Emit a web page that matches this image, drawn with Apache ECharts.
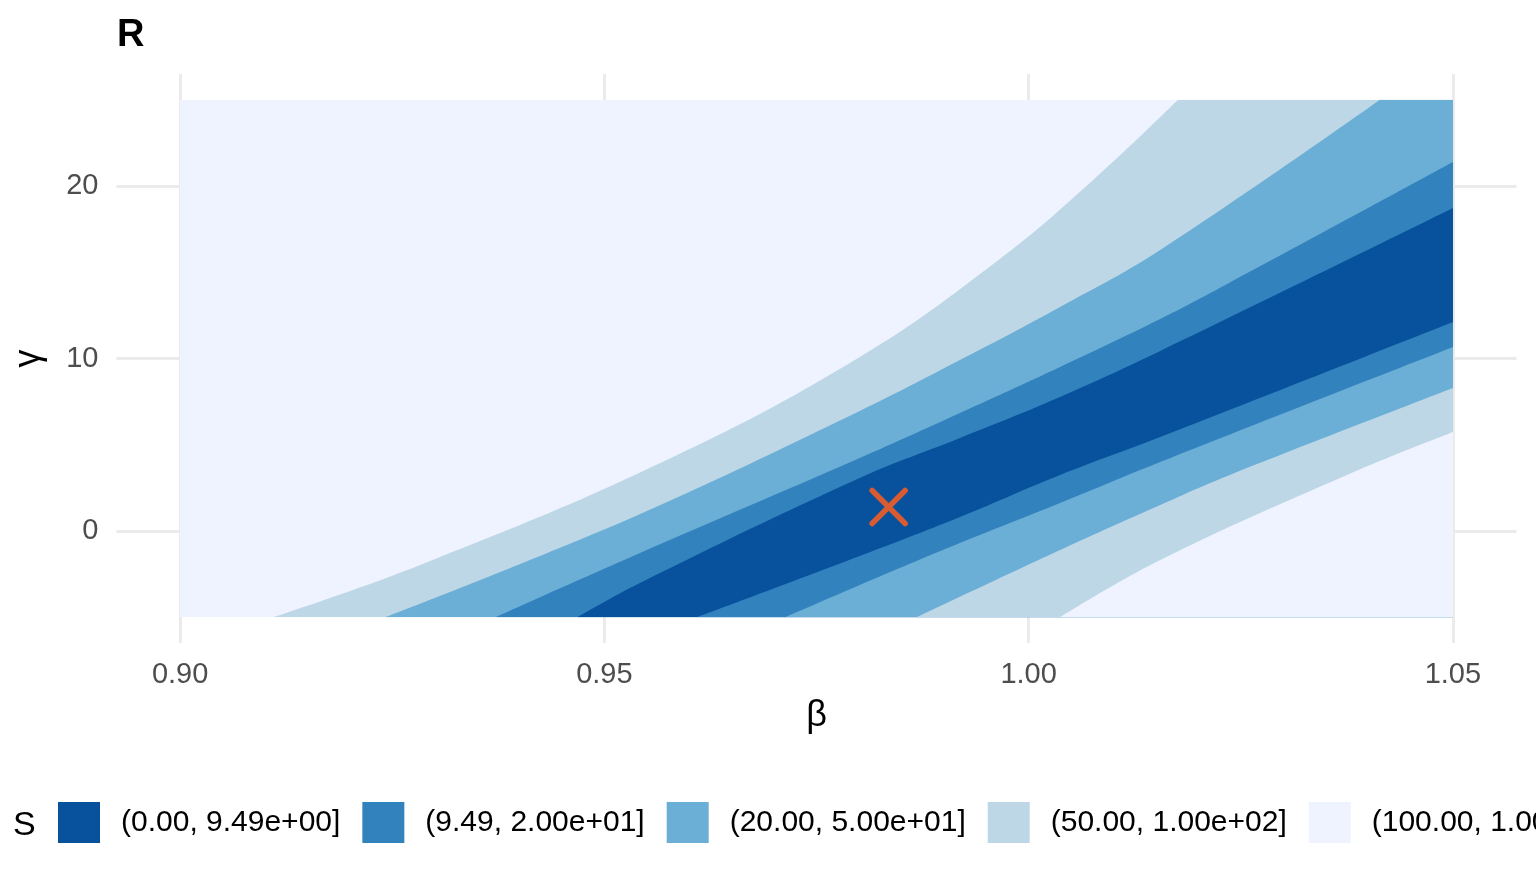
<!DOCTYPE html>
<html>
<head>
<meta charset="utf-8">
<title>R</title>
<script src="https://cdn.jsdelivr.net/npm/echarts@6/dist/echarts.min.js"></script>
<style>html,body{margin:0;padding:0;background:#fff;}</style>
</head>
<body>
<div id="main" style="width:1536px;height:883px;"></div>
<script>
// bands of S, lowest first
var bandLabels = ['(0.00, 9.49e+00]', '(9.49, 2.00e+01]', '(20.00, 5.00e+01]', '(50.00, 1.00e+02]', '(100.00, 1.00e+03]'];
var bandColors = ['#08519C', '#3182BD', '#6BAED6', '#BDD7E7', '#EFF3FF'];

// contour edges [beta, gamma]
var edge100Upper = [[0.9110, -5.0], [0.9283, -1.97], [0.9566, 3.94], [0.9801, 10.09], [0.9966, 15.77], [1.0076, 20.35], [1.0176, 25.0]];
var edge100UpperTop = [[1.0176, 25.0], [1.05, 25.0]];
var edge50Upper = [[0.9242, -5.0], [0.9392, -2.09], [0.9566, 1.51], [0.9801, 6.96], [0.9919, 9.91], [1.0037, 12.99], [1.0155, 16.29], [1.0414, 25.0]];
var edge50UpperTop = [[1.0414, 25.0], [1.05, 25.0]];
var edge20Upper = [[0.9372, -5.0], [0.9542, -1.28], [0.9801, 4.23], [0.9919, 6.84], [1.0037, 9.51], [1.0155, 12.29], [1.0234, 14.32], [1.05, 21.39]];
var edge9Upper = [[0.9468, -5.0], [0.9542, -3.01], [0.9801, 3.07], [0.9919, 5.39], [1.0037, 7.77], [1.0155, 10.43], [1.05, 18.72]];
var edge9Lower = [[0.9609, -5.0], [0.9801, -1.45], [0.9919, 0.81], [1.0037, 3.25], [1.0155, 5.45], [1.05, 12.12]];
var edge20Lower = [[0.9713, -5.0], [0.9801, -3.13], [0.9919, -0.70], [1.0037, 1.62], [1.0155, 4.00], [1.05, 10.67]];
var edge50Lower = [[0.9868, -5.0], [1.0037, -1.10], [1.0155, 1.51], [1.0237, 3.25], [1.05, 8.29]];
var edge100Lower = [[1.0037, -5.0], [1.0155, -1.68], [1.0375, 3.25], [1.05, 5.74]];
var fullTop = [[0.90, 25.0], [1.05, 25.0]];

var optimum = [[0.9835, 1.39]];

var xTicks = [0.90, 0.95, 1.00, 1.05];
var yTicks = [0, 10, 20];

var font = 'Liberation Sans';
var myChart = echarts.init(document.getElementById('main'));

// each edge fills down to the bottom of the data area, drawn in order
function band(idx, points, smooth) {
    var c = bandColors[idx];
    return {
        name: bandLabels[idx],
        type: 'line',
        xAxisIndex: 1,
        yAxisIndex: 1,
        data: points,
        smooth: smooth,
        symbol: 'none',
        silent: true,
        lineStyle: { width: 0, color: c },
        itemStyle: { color: c },
        areaStyle: { color: c, opacity: 1, origin: 'start' }
    };
}

var option = {
    animation: false,
    backgroundColor: '#fff',
    title: [
        { text: 'R', left: 112, top: 12, textStyle: { fontFamily: font, fontSize: 38, fontWeight: 'bold', color: '#000' } },
        { text: 'S', left: 8, top: 804, textStyle: { fontFamily: font, fontSize: 34, fontWeight: 'normal', color: '#000' } }
    ],
    legend: {
        left: 58,
        top: 802,
        width: 3000,
        padding: 0,
        orient: 'horizontal',
        icon: 'rect',
        itemWidth: 42,
        itemHeight: 41,
        itemGap: 22,
        selectedMode: false,
        textStyle: { fontFamily: font, fontSize: 30, color: '#000', padding: [6, 0, 0, 16] },
        data: bandLabels.map(function (n, i) { return { name: n, itemStyle: { color: bandColors[i] } }; })
    },
    grid: [
        { left: 116.5, right: 19.5, top: 74, bottom: 240 },
        { left: 180, right: 83, top: 99.75, bottom: 265.75 }
    ],
    xAxis: [
        {
            type: 'value', gridIndex: 0, min: 0.8925, max: 1.0575,
            name: 'β', nameLocation: 'middle', nameGap: 55,
            nameTextStyle: { fontFamily: font, fontSize: 36, color: '#000' },
            axisLine: { show: false },
            axisTick: { show: false, customValues: xTicks },
            axisLabel: {
                customValues: xTicks, margin: 17,
                fontFamily: font, fontSize: 29, color: '#4D4D4D',
                formatter: function (v) { return v.toFixed(2); }
            },
            splitLine: { show: true, lineStyle: { color: '#EBEBEB', width: 3 } }
        },
        { type: 'value', gridIndex: 1, min: 0.90, max: 1.05, show: false }
    ],
    yAxis: [
        {
            type: 'value', gridIndex: 0, min: -6.5, max: 26.5,
            name: 'γ', nameLocation: 'middle', nameGap: 69,
            nameTextStyle: { fontFamily: font, fontSize: 36, color: '#000' },
            axisLine: { show: false },
            axisTick: { show: false, customValues: yTicks },
            axisLabel: {
                customValues: yTicks, margin: 18,
                fontFamily: font, fontSize: 29, color: '#4D4D4D'
            },
            splitLine: { show: true, lineStyle: { color: '#EBEBEB', width: 3 } }
        },
        { type: 'value', gridIndex: 1, min: -5, max: 25, show: false }
    ],
    series: [
        band(4, fullTop, false),
        band(3, edge100Upper, 0.4),
        band(3, edge100UpperTop, false),
        band(2, edge50Upper, 0.4),
        band(2, edge50UpperTop, false),
        band(1, edge20Upper, 0.4),
        band(0, edge9Upper, 0.4),
        band(1, edge9Lower, 0.4),
        band(2, edge20Lower, 0.4),
        band(3, edge50Lower, 0.4),
        band(4, edge100Lower, 0.4),
        {
            name: 'optimum',
            type: 'custom',
            xAxisIndex: 1,
            yAxisIndex: 1,
            data: optimum,
            silent: true,
            z: 5,
            renderItem: function (params, api) {
                var c = api.coord([api.value(0), api.value(1)]);
                var h = 16.5;
                var st = { stroke: '#D95B32', lineWidth: 5.5, lineCap: 'round', fill: null };
                return {
                    type: 'group',
                    children: [
                        { type: 'line', shape: { x1: c[0] - h, y1: c[1] - h, x2: c[0] + h, y2: c[1] + h }, style: st },
                        { type: 'line', shape: { x1: c[0] - h, y1: c[1] + h, x2: c[0] + h, y2: c[1] - h }, style: st }
                    ]
                };
            }
        }
    ]
};
myChart.setOption(option);
</script>
</body>
</html>
